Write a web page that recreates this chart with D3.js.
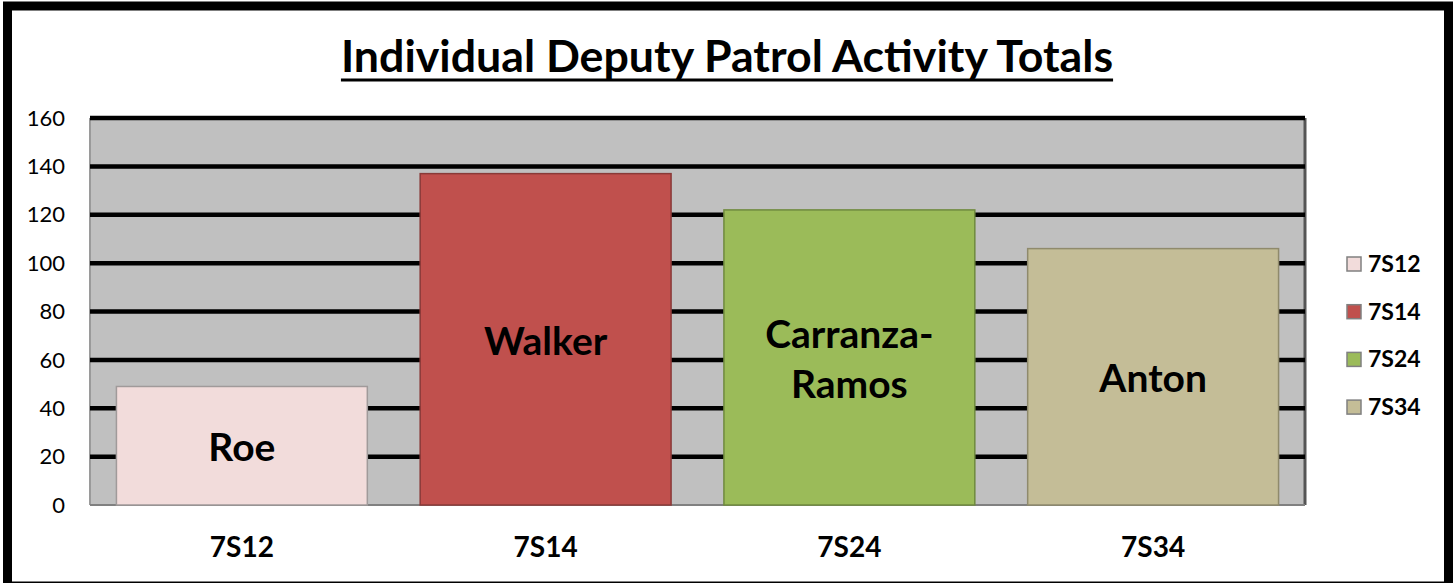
<!DOCTYPE html>
<html><head><meta charset="utf-8">
<script src="https://cdn.jsdelivr.net/npm/d3@7"></script>
<style>body{margin:0;background:#fff;} svg{display:block;}</style>
</head><body>
<script>
const categories = ["7S12", "7S14", "7S24", "7S34"];
const values = [49, 137, 122, 106];
const barLabels = [["Roe"], ["Walker"], ["Carranza-", "Ramos"], ["Anton"]];
const colors = ["#F2DCDB", "#C0504D", "#9BBB59", "#C4BD97"];
const strokes = ["#a09a9a", "#8a3a38", "#6f8a3e", "#8f8a6c"];
const yTicks = [0, 20, 40, 60, 80, 100, 120, 140, 160];
const title = "Individual Deputy Patrol Activity Totals";

const W = 1453, H = 583;
const FONT = "Lato, 'Open Sans', 'DejaVu Sans', sans-serif";
const svg = d3.select("body").append("svg").attr("width", W).attr("height", H);

svg.append("rect").attr("x", 7.5).attr("y", 6).attr("width", 1441).attr("height", 580)
  .attr("fill", "#fff").attr("stroke", "#000").attr("stroke-width", 9);

const L = 90, R = 1305, T = 118, B = 505;
const x = d3.scaleBand().domain(categories).range([L, R]).paddingInner(0.174).paddingOuter(0.087);
const y = d3.scaleLinear().domain([0, 160]).range([B, T]);

svg.append("rect").attr("x", L).attr("y", T).attr("width", R - L).attr("height", B - T)
  .attr("fill", "#C0C0C0");
svg.append("line").attr("x1", L).attr("x2", L).attr("y1", T).attr("y2", B).attr("stroke", "#9a9a9a").attr("stroke-width", 2);
svg.append("line").attr("x1", R).attr("x2", R).attr("y1", T).attr("y2", B).attr("stroke", "#555").attr("stroke-width", 3);
svg.append("line").attr("x1", L).attr("x2", R).attr("y1", B).attr("y2", B).attr("stroke", "#808080").attr("stroke-width", 2);

// gridlines
svg.append("g").selectAll("line").data(yTicks.filter(d => d > 0)).join("line")
  .attr("x1", L).attr("x2", R).attr("y1", d => y(d)).attr("y2", d => y(d))
  .attr("stroke", "#000").attr("stroke-width", 4.5);

// y labels
svg.append("g").selectAll("text").data(yTicks).join("text")
  .attr("x", 65).attr("y", d => y(d)).attr("dy", "0.35em").attr("text-anchor", "end")
  .attr("font-family", FONT).attr("font-size", 22).attr("fill", "#000").text(d => d);

// bars
svg.append("g").selectAll("rect").data(values).join("rect")
  .attr("x", (d, i) => x(categories[i])).attr("width", x.bandwidth())
  .attr("y", d => y(d)).attr("height", d => B - y(d))
  .attr("fill", (d, i) => colors[i]).attr("stroke", (d, i) => strokes[i]).attr("stroke-width", 1.5);

// bar labels
barLabels.forEach((lines, i) => {
  const cx = x(categories[i]) + x.bandwidth() / 2;
  const cy = (y(values[i]) + B) / 2;
  const lh = 50;
  lines.forEach((t, j) => {
    svg.append("text").attr("x", cx).attr("y", cy + (j - (lines.length - 1) / 2) * lh + 2)
      .attr("dy", "0.35em").attr("text-anchor", "middle")
      .attr("font-family", FONT).attr("font-weight", "bold").attr("font-size", 39).attr("fill", "#000").text(t);
  });
});

// x labels
svg.append("g").selectAll("text").data(categories).join("text")
  .attr("x", d => x(d) + x.bandwidth() / 2).attr("y", 547).attr("dy", "0.35em").attr("text-anchor", "middle")
  .attr("font-family", FONT).attr("font-weight", "bold").attr("font-size", 28).attr("fill", "#000").text(d => d);

// legend
const lg = svg.append("g").selectAll("g").data(categories).join("g")
  .attr("transform", (d, i) => `translate(1347, ${264 + i * 47.7})`);
lg.append("rect").attr("x", 0).attr("y", -7).attr("width", 14).attr("height", 14)
  .attr("fill", (d, i) => colors[i]).attr("stroke", "#808080").attr("stroke-width", 1.5);
lg.append("text").attr("x", 21).attr("y", 0).attr("dy", "0.35em")
  .attr("font-family", FONT).attr("font-weight", "bold").attr("font-size", 23).attr("fill", "#000").text(d => d);

// title
const tt = svg.append("text").attr("x", 727).attr("y", 72).attr("text-anchor", "middle")
  .attr("font-family", FONT).attr("font-weight", "bold").attr("font-size", 44.7).attr("fill", "#000").text(title);
const bb = tt.node().getBBox();
svg.append("line").attr("x1", bb.x).attr("x2", bb.x + bb.width).attr("y1", 80).attr("y2", 80)
  .attr("stroke", "#000").attr("stroke-width", 3);
</script>
</body></html>
